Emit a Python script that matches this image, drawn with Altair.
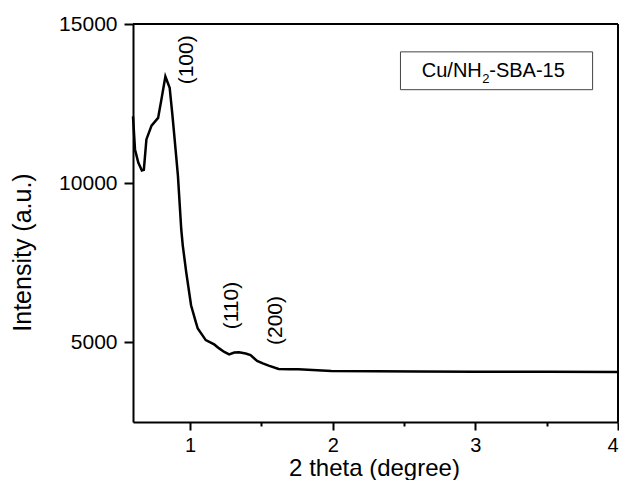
import altair as alt
import pandas as pd

# 2 theta (degree) and intensity (a.u.)
two_theta = [0.600, 0.614, 0.637, 0.662, 0.676, 0.694, 0.730, 0.776, 0.799, 0.827,
             0.857, 0.875, 0.892, 0.915, 0.938, 0.949, 0.973, 1.007, 1.040, 1.054,
             1.110, 1.169, 1.204, 1.240, 1.274, 1.310, 1.343, 1.390, 1.424, 1.470,
             1.510, 1.551, 1.621, 1.700, 1.760, 1.990, 2.300, 2.590, 3.000, 3.500, 4.000]
intensity = [12100, 11060, 10650, 10400, 10420, 11375, 11810, 12050, 12625, 13350,
             13000, 12200, 11375, 10230, 8562, 8040, 7209, 6166, 5646, 5437,
             5072, 4937, 4812, 4700, 4625, 4680, 4687, 4650, 4604, 4416,
             4340, 4272, 4166, 4160, 4156, 4103, 4090, 4084, 4080, 4075, 4070]

peak_labels = ["(100)", "(110)", "(200)"]
peak_x = [0.982, 1.294, 1.600]
peak_y = [13875, 6156, 5687]

legend_parts = ["Cu/NH", "2", "-SBA-15"]

X_MIN, X_MAX = 0.6, 4.0
Y_MIN, Y_MAX = 2500, 15000

FONT = "Liberation Sans"

df = pd.DataFrame({"x": two_theta, "y": intensity})
xs = alt.Scale(domain=[X_MIN, X_MAX], nice=False, zero=False)
ys = alt.Scale(domain=[Y_MIN, Y_MAX], nice=False, zero=False)

W, H = 485, 398

line = alt.Chart(df).mark_line(color="black", strokeWidth=2.5).encode(
    x=alt.X("x:Q", scale=xs, title="2 theta (degree)",
            axis=alt.Axis(values=[1, 1.5, 2, 2.5, 3, 3.5, 4], grid=False, format="~g",
                          labelExpr="datum.value % 1 === 0 ? datum.label : ''",
                          tickSize={"condition": {"test": "datum.value % 1 !== 0", "value": 4}, "value": 8},
                          labelAlign={"condition": {"test": "datum.value >= 4", "value": "right"}, "value": "center"},
                          tickWidth=2, domainWidth=2, domainColor="black", tickColor="black",
                          labelFont=FONT, labelFontSize=20, labelColor="black", labelPadding=5,
                          labelOverlap=False, labelBound=False, labelFlush=False,
                          titleFont=FONT, titleFontSize=24, titleFontWeight="normal", titleColor="black",
                          titleX=241, titleY=53, titleBaseline="alphabetic", titleAlign="center")),
    y=alt.Y("y:Q", scale=ys, title="Intensity (a.u.)",
            axis=alt.Axis(values=[5000, 10000, 15000], grid=False, format="d",
                          tickSize=9, tickWidth=2, domainWidth=2, domainColor="black", tickColor="black",
                          labelFont=FONT, labelFontSize=21, labelColor="black", labelPadding=7,
                          titleFont=FONT, titleFontSize=25, titleFontWeight="normal", titleColor="black",
                          titleAngle=270, titleX=-111, titleY=228, titleAlign="center",
                          titleBaseline="middle")),
)

# frame on top and right
top_rule = alt.Chart(pd.DataFrame({"x": [X_MIN], "x2": [X_MAX], "y": [Y_MAX]})).mark_rule(
    color="black", strokeWidth=2
).encode(x=alt.X("x:Q", scale=xs), x2="x2:Q", y=alt.Y("y:Q", scale=ys))
right_rule = alt.Chart(pd.DataFrame({"x": [X_MAX], "y": [Y_MIN], "y2": [Y_MAX]})).mark_rule(
    color="black", strokeWidth=2
).encode(x=alt.X("x:Q", scale=xs), y=alt.Y("y:Q", scale=ys), y2="y2:Q")

peaks = alt.Chart(pd.DataFrame({"x": peak_x, "y": peak_y, "t": peak_labels})).mark_text(
    angle=270, align="center", baseline="middle", font=FONT, fontSize=21, color="black"
).encode(x=alt.X("x:Q", scale=xs), y=alt.Y("y:Q", scale=ys), text="t:N")

box = alt.Chart(pd.DataFrame({"x": [2.475], "x2": [3.822], "y": [14125], "y2": [12937]})).mark_rect(
    fill="white", stroke="#444444", strokeWidth=1
).encode(x=alt.X("x:Q", scale=xs), x2="x2:Q", y=alt.Y("y:Q", scale=ys), y2="y2:Q")

lx = 3.045
ly = 13531
leg1 = alt.Chart(pd.DataFrame({"x": [lx], "y": [ly], "t": [legend_parts[0]]})).mark_text(
    align="right", baseline="middle", font=FONT, fontSize=20, color="black"
).encode(x=alt.X("x:Q", scale=xs), y=alt.Y("y:Q", scale=ys), text="t:N")
leg2 = alt.Chart(pd.DataFrame({"x": [lx], "y": [ly], "t": [legend_parts[1]]})).mark_text(
    align="left", baseline="middle", font=FONT, fontSize=13, color="black", dx=0.5, dy=8
).encode(x=alt.X("x:Q", scale=xs), y=alt.Y("y:Q", scale=ys), text="t:N")
leg3 = alt.Chart(pd.DataFrame({"x": [lx], "y": [ly], "t": [legend_parts[2]]})).mark_text(
    align="left", baseline="middle", font=FONT, fontSize=20, color="black", dx=7.5
).encode(x=alt.X("x:Q", scale=xs), y=alt.Y("y:Q", scale=ys), text="t:N")

chart = alt.layer(line, top_rule, right_rule, peaks, box, leg1, leg2, leg3).properties(
    width=W, height=H,
    autosize=alt.AutoSizeParams(type="none"),
    padding={"left": 125, "top": 16, "right": 1, "bottom": 58},
).configure_view(stroke=None).configure(background="white")

chart.save("out.html", embed_options={"renderer": "svg", "actions": False})
